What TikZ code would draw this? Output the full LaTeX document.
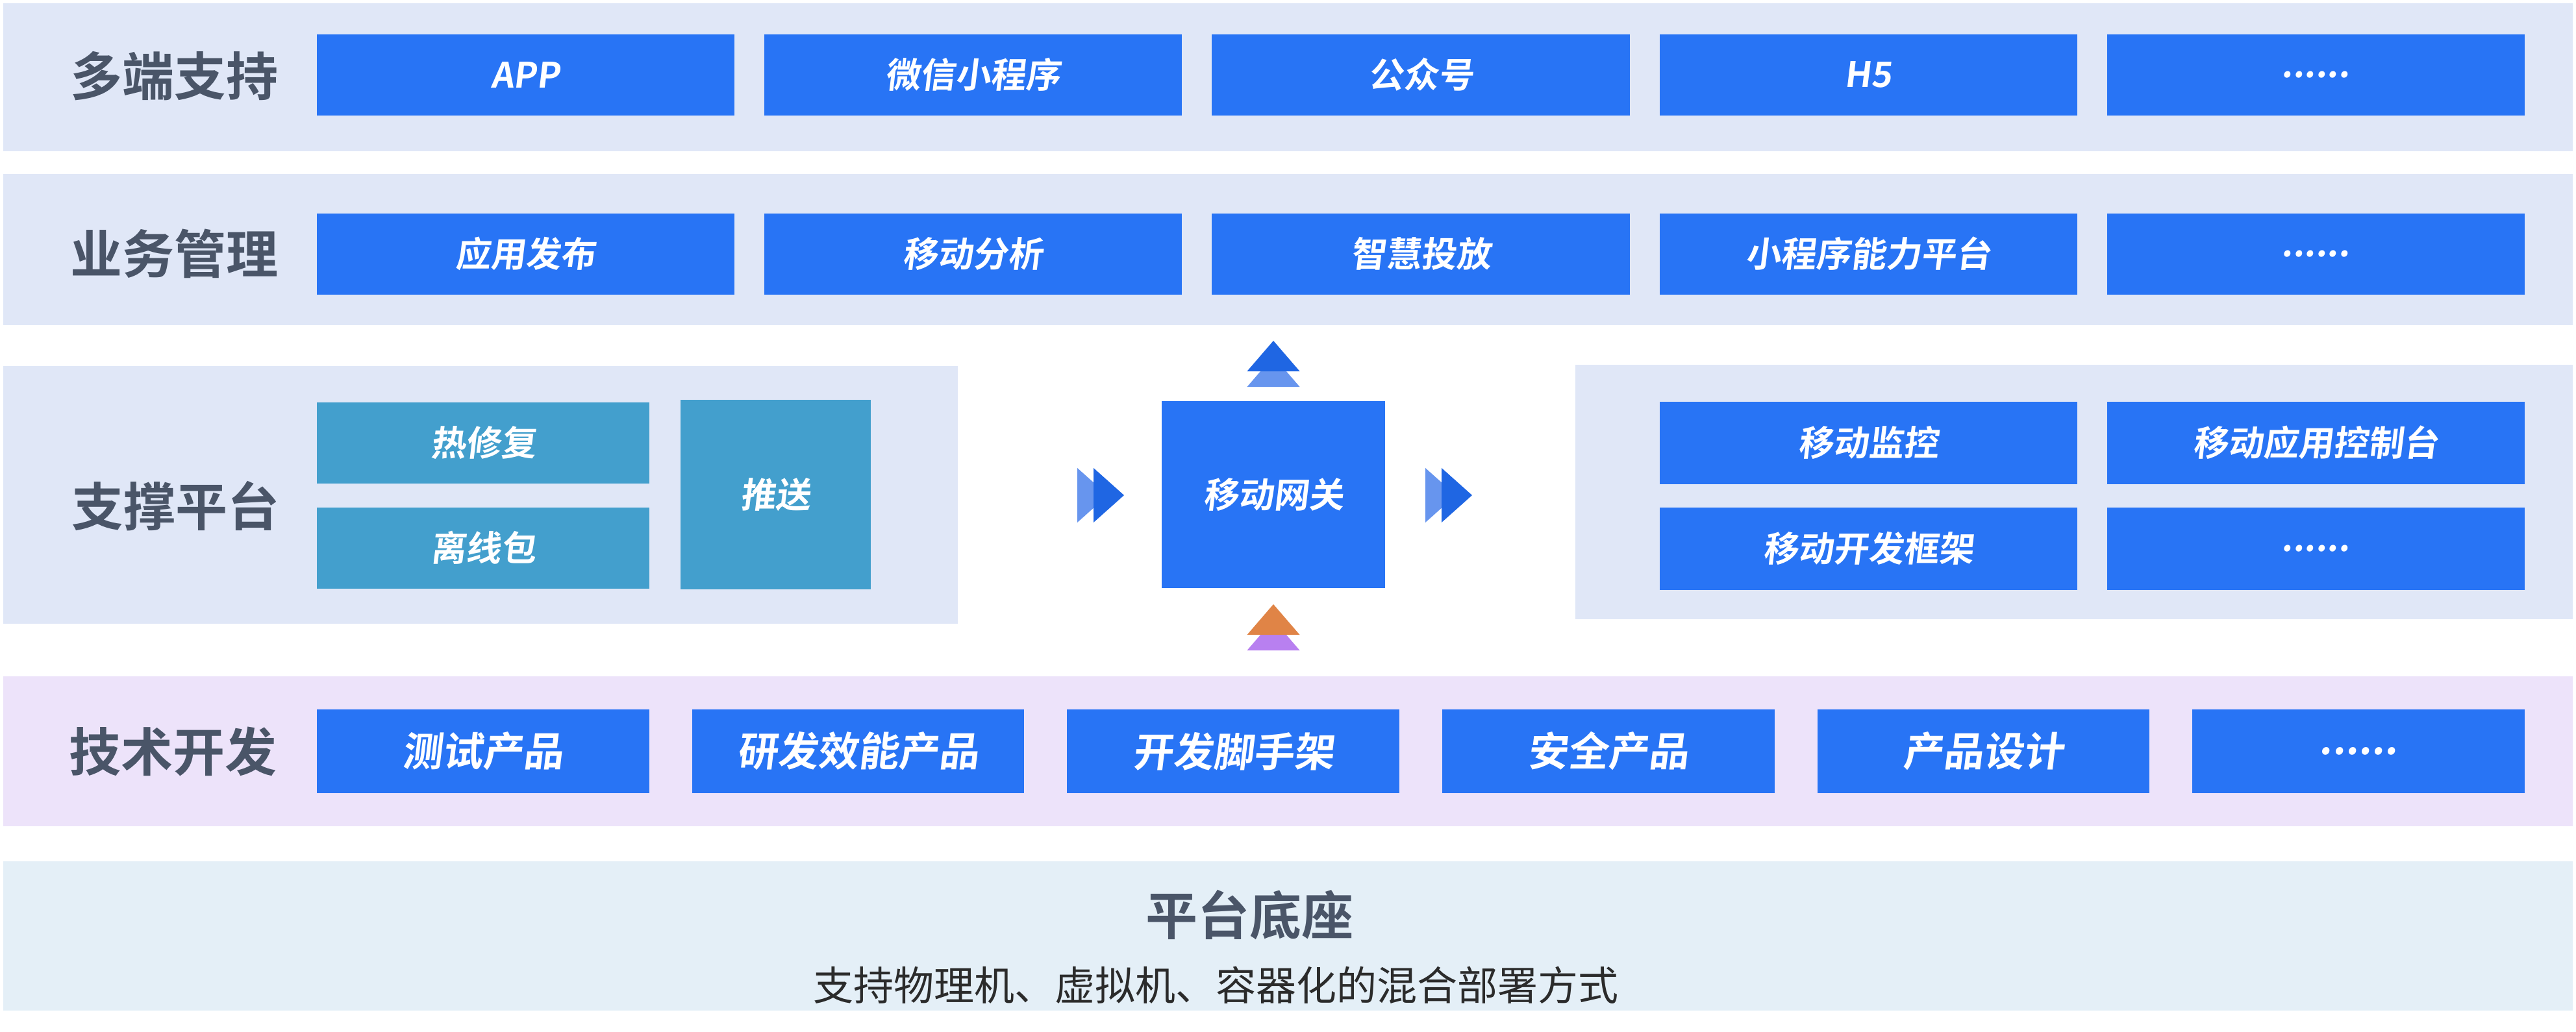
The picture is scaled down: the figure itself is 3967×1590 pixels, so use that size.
\documentclass[tikz,border=0pt]{standalone}
\usepackage{fontspec}
\setmainfont{Noto Sans CJK SC}[BoldFont={Noto Sans CJK SC Bold}]
\newfontfamily\lblfont{Noto Sans CJK SC Bold}
\newfontfamily\boxfont{Noto Sans CJK SC Bold}[FakeSlant=0.12]
\newfontfamily\regfont{Noto Sans CJK SC}
\definecolor{bandblue}{HTML}{E0E7F7}
\definecolor{bandpurple}{HTML}{EDE3FA}
\definecolor{bandbase}{HTML}{E4EFF7}
\definecolor{boxblue}{HTML}{2874F5}
\definecolor{boxteal}{HTML}{439FCD}
\definecolor{lblgray}{HTML}{4A5568}
\definecolor{arrdark}{HTML}{1F66E3}
\definecolor{arrlight}{HTML}{6795EE}
\definecolor{arrorange}{HTML}{E08446}
\definecolor{arrpurple}{HTML}{B880F0}
\definecolor{subtext}{HTML}{2B2B2B}
\tikzset{
  bluebox/.style={fill=boxblue, draw=none, inner sep=0pt, text=white,
    font=\boxfont\fontsize{54pt}{60pt}\selectfont},
  topbox/.style={bluebox, minimum width=643.2pt, minimum height=125pt},
  devbox/.style={bluebox, minimum width=511.7pt, minimum height=129pt,
    font=\boxfont\fontsize{62pt}{68pt}\selectfont},
  panelbox/.style={bluebox, minimum width=643.2pt, minimum height=127pt},
  tealbox/.style={bluebox, fill=boxteal},
  rowlabel/.style={text=lblgray, inner sep=0pt, font=\lblfont\fontsize{80pt}{90pt}\selectfont},
}
\begin{document}
\begin{tikzpicture}[x=1pt, y=-1pt]
\useasboundingbox (0,0) rectangle (3967,1590);
\fill[white] (0,0) rectangle (3967,1590);
% bands
\fill[bandblue] (5,5) rectangle (3962,233);
\fill[bandblue] (5,268) rectangle (3962,501);
\fill[bandblue] (5,564) rectangle (1475,961);
\fill[bandblue] (2426,562) rectangle (3962,954);
\fill[bandpurple] (5,1042) rectangle (3962,1273);
\fill[bandbase] (5,1327) rectangle (3962,1557);
% row labels
\node[rowlabel] (l1) at (268,117) {多端支持};
\node[rowlabel] (l2) at (268,391) {业务管理};
\node[rowlabel] (l3) at (270,780) {支撑平台};
\node[rowlabel] (l4) at (266,1158) {技术开发};
% row 1
\node[topbox] (a1) at (809.6,115) {APP};
\node[topbox] (a2) at (1498.8,115) {微信小程序};
\node[topbox] (a3) at (2188,115) {公众号};
\node[topbox] (a4) at (2877.2,115) {H5};
\node[topbox] (a5) at (3566.4,115) {......};
% row 2
\node[topbox] (b1) at (809.6,391) {应用发布};
\node[topbox] (b2) at (1498.8,391) {移动分析};
\node[topbox] (b3) at (2188,391) {智慧投放};
\node[topbox] (b4) at (2877.2,391) {小程序能力平台};
\node[topbox] (b5) at (3566.4,391) {......};
% support platform
\node[tealbox, minimum width=512pt, minimum height=125pt] (c1) at (744,682) {热修复};
\node[tealbox, minimum width=512pt, minimum height=125pt] (c2) at (744,844) {离线包};
\node[tealbox, minimum width=293pt, minimum height=292pt] (c3) at (1194.5,762) {推送};
% gateway
\node[bluebox, minimum width=344pt, minimum height=288pt] (gw) at (1961,762) {移动网关};
% right panel
\node[panelbox] (d1) at (2877.2,682) {移动监控};
\node[panelbox] (d2) at (3566.4,682) {移动应用控制台};
\node[panelbox] (d3) at (2877.2,845) {移动开发框架};
\node[panelbox] (d4) at (3566.4,845) {......};
% triangles around the gateway
\fill[arrlight] (1920.5,596) -- (1961,549) -- (2001.5,596) -- cycle;
\fill[arrdark] (1920.5,572) -- (1961,525) -- (2001.5,572) -- cycle;
\fill[arrpurple] (1920.5,1002) -- (1961,955) -- (2001.5,1002) -- cycle;
\fill[arrorange] (1920.5,978) -- (1961,931) -- (2001.5,978) -- cycle;
\fill[arrlight] (1659,721) -- (1706,763) -- (1659,805) -- cycle;
\fill[arrdark] (1684,721) -- (1731,763) -- (1684,805) -- cycle;
\fill[arrlight] (2195,721) -- (2242,763) -- (2195,805) -- cycle;
\fill[arrdark] (2220,721) -- (2267,763) -- (2220,805) -- cycle;
% row 4
\node[devbox] (e1) at (743.8,1157.5) {测试产品};
\node[devbox] (e2) at (1321.5,1157.5) {研发效能产品};
\node[devbox] (e3) at (1899.2,1157.5) {开发脚手架};
\node[devbox] (e4) at (2476.9,1157.5) {安全产品};
\node[devbox] (e5) at (3054.6,1157.5) {产品设计};
\node[devbox] (e6) at (3632.3,1157.5) {......};
% base
\node[rowlabel] (f1) at (1924,1410) {平台底座};
\node[text=subtext, inner sep=0pt, font=\regfont\fontsize{62pt}{70pt}\selectfont] (f2) at (1872,1518) {支持物理机、虚拟机、容器化的混合部署方式};
\end{tikzpicture}
\end{document}
